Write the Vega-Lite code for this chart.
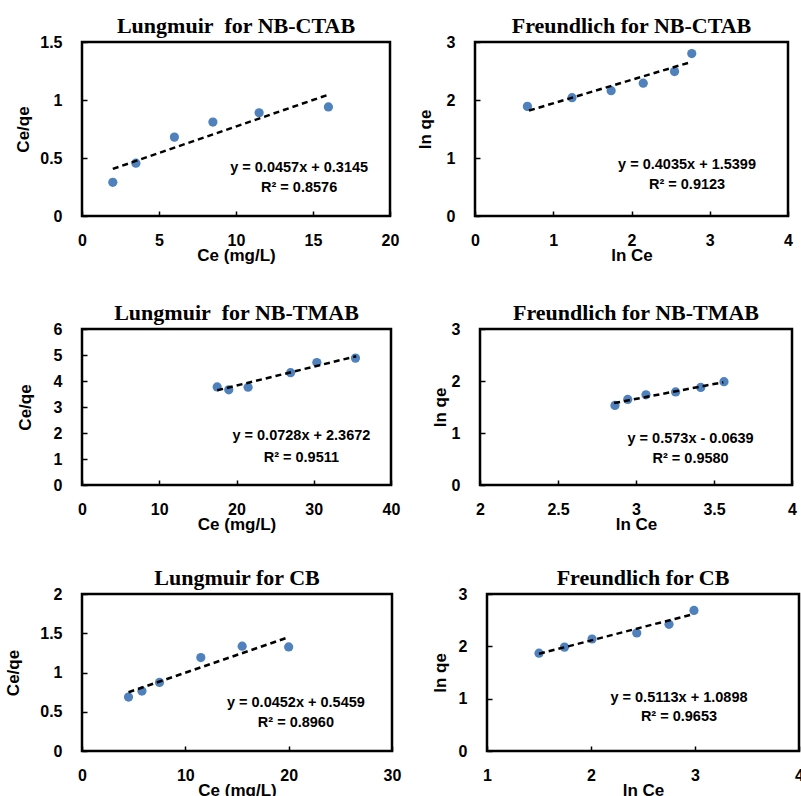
{
  "$schema": "https://vega.github.io/schema/vega-lite/v6.json",
  "background": "white",
  "padding": {"left": 2, "top": 13, "right": 0, "bottom": 0},
  "bounds": "flush",
  "spacing": 287,
  "config": {
    "font": "Liberation Sans",
    "view": {"stroke": "black", "strokeWidth": 2.5},
    "axis": {
      "grid": false, "domain": false, "ticks": true, "tickColor": "black", "tickSize": -5, "tickWidth": 1.5, "tickCount": 20,
      "labelFont": "Liberation Sans", "labelFontWeight": "bold", "labelFontSize": 16, "labelColor": "black",
      "titleFont": "Liberation Sans", "titleFontWeight": "bold", "titleFontSize": 17, "titleColor": "black",
      "labelFlush": false, "labelOverlap": false, "format": "~g"
    },
    "axisY": {"labelPadding": 25, "minExtent": 30, "maxExtent": 30},
    "axisX": {"labelPadding": 21, "titlePadding": -1},
    "title": {"font": "Liberation Serif", "fontSize": 22, "fontWeight": "bold", "color": "black", "offset": -4, "anchor": "middle"},
    "circle": {"size": 85, "color": "#4F81BD", "opacity": 1},
    "line": {"color": "black", "strokeWidth": 2.5, "strokeDash": [6, 4]},
    "text": {"font": "Liberation Sans", "fontWeight": "bold", "fontSize": 14.5, "color": "black", "align": "center", "baseline": "middle"}
  },
  "vconcat": [
    {
      "bounds": "flush",
      "spacing": 85,
      "hconcat": [
        {
          "width": 308, "height": 174,
          "title": "Lungmuir\u00a0 for NB-CTAB",
          "layer": [
            {
              "data": {"values": [{"x": 2, "y": 0.29}, {"x": 3.5, "y": 0.455}, {"x": 6, "y": 0.68}, {"x": 8.5, "y": 0.81}, {"x": 11.5, "y": 0.89}, {"x": 16, "y": 0.94}]},
              "mark": "circle",
              "encoding": {
                "x": {"field": "x", "type": "quantitative", "scale": {"domain": [0, 20], "nice": false}, "axis": {"title": "Ce (mg/L)", "values": [0, 5, 10, 15, 20]}},
                "y": {"field": "y", "type": "quantitative", "scale": {"domain": [0, 1.5], "nice": false}, "axis": {"title": "Ce/qe", "values": [0, 0.5, 1, 1.5], "titlePadding": 20}}
              }
            },
            {
              "data": {"values": [{"x": 2, "y": 0.406}, {"x": 16, "y": 1.046}]},
              "mark": "line",
              "encoding": {"x": {"field": "x", "type": "quantitative"}, "y": {"field": "y", "type": "quantitative"}}
            },
            {
              "data": {"values": [{"x": 14.1, "y": 0.414, "t": "y = 0.0457x + 0.3145"}, {"x": 14.1, "y": 0.241, "t": "R² = 0.8576"}]},
              "mark": "text",
              "encoding": {"x": {"field": "x", "type": "quantitative"}, "y": {"field": "y", "type": "quantitative"}, "text": {"field": "t"}}
            }
          ]
        },
        {
          "width": 313, "height": 174,
          "title": "Freundlich for NB-CTAB",
          "layer": [
            {
              "data": {"values": [{"x": 0.67, "y": 1.89}, {"x": 1.24, "y": 2.04}, {"x": 1.74, "y": 2.16}, {"x": 2.15, "y": 2.29}, {"x": 2.55, "y": 2.49}, {"x": 2.77, "y": 2.8}]},
              "mark": "circle",
              "encoding": {
                "x": {"field": "x", "type": "quantitative", "scale": {"domain": [0, 4], "nice": false}, "axis": {"title": "ln Ce", "values": [0, 1, 2, 3, 4]}},
                "y": {"field": "y", "type": "quantitative", "scale": {"domain": [0, 3], "nice": false}, "axis": {"title": "ln qe", "values": [0, 1, 2, 3], "titlePadding": 11}}
              }
            },
            {
              "data": {"values": [{"x": 0.69, "y": 1.818}, {"x": 2.77, "y": 2.658}]},
              "mark": "line",
              "encoding": {"x": {"field": "x", "type": "quantitative"}, "y": {"field": "y", "type": "quantitative"}}
            },
            {
              "data": {"values": [{"x": 2.71, "y": 0.879, "t": "y = 0.4035x + 1.5399"}, {"x": 2.71, "y": 0.534, "t": "R² = 0.9123"}]},
              "mark": "text",
              "encoding": {"x": {"field": "x", "type": "quantitative"}, "y": {"field": "y", "type": "quantitative"}, "text": {"field": "t"}}
            }
          ]
        }
      ]
    },
    {
      "bounds": "flush",
      "spacing": 265,
      "vconcat": [
        {
          "bounds": "flush",
          "spacing": 89,
          "hconcat": [
            {
              "width": 309, "height": 156,
              "title": "Lungmuir\u00a0 for NB-TMAB",
              "layer": [
                {
                  "data": {"values": [{"x": 17.5, "y": 3.77}, {"x": 19, "y": 3.66}, {"x": 21.5, "y": 3.76}, {"x": 27, "y": 4.32}, {"x": 30.4, "y": 4.71}, {"x": 35.4, "y": 4.88}]},
                  "mark": "circle",
                  "encoding": {
                    "x": {"field": "x", "type": "quantitative", "scale": {"domain": [0, 40], "nice": false}, "axis": {"title": "Ce (mg/L)", "values": [0, 10, 20, 30, 40]}},
                    "y": {"field": "y", "type": "quantitative", "scale": {"domain": [0, 6], "nice": false}, "axis": {"title": "Ce/qe", "values": [0, 1, 2, 3, 4, 5, 6], "titlePadding": 18}}
                  }
                },
                {
                  "data": {"values": [{"x": 17.5, "y": 3.641}, {"x": 35.5, "y": 4.952}]},
                  "mark": "line",
                  "encoding": {"x": {"field": "x", "type": "quantitative"}, "y": {"field": "y", "type": "quantitative"}}
                },
                {
                  "data": {"values": [{"x": 28.4, "y": 1.87, "t": "y = 0.0728x + 2.3672"}, {"x": 28.4, "y": 1.05, "t": "R² = 0.9511"}]},
                  "mark": "text",
                  "encoding": {"x": {"field": "x", "type": "quantitative"}, "y": {"field": "y", "type": "quantitative"}, "text": {"field": "t"}}
                }
              ]
            },
            {
              "width": 312, "height": 156,
              "title": "Freundlich for NB-TMAB",
              "layer": [
                {
                  "data": {"values": [{"x": 2.865, "y": 1.53}, {"x": 2.947, "y": 1.645}, {"x": 3.064, "y": 1.735}, {"x": 3.254, "y": 1.79}, {"x": 3.415, "y": 1.877}, {"x": 3.564, "y": 1.987}]},
                  "mark": "circle",
                  "encoding": {
                    "x": {"field": "x", "type": "quantitative", "scale": {"domain": [2, 4], "nice": false, "zero": false}, "axis": {"title": "ln Ce", "values": [2, 2.5, 3, 3.5, 4]}},
                    "y": {"field": "y", "type": "quantitative", "scale": {"domain": [0, 3], "nice": false}, "axis": {"title": "ln qe", "values": [0, 1, 2, 3], "titlePadding": 1}}
                  }
                },
                {
                  "data": {"values": [{"x": 2.86, "y": 1.575}, {"x": 3.56, "y": 1.976}]},
                  "mark": "line",
                  "encoding": {"x": {"field": "x", "type": "quantitative"}, "y": {"field": "y", "type": "quantitative"}}
                },
                {
                  "data": {"values": [{"x": 3.35, "y": 0.89, "t": "y = 0.573x - 0.0639"}, {"x": 3.35, "y": 0.503, "t": "R² = 0.9580"}]},
                  "mark": "text",
                  "encoding": {"x": {"field": "x", "type": "quantitative"}, "y": {"field": "y", "type": "quantitative"}, "text": {"field": "t"}}
                }
              ]
            }
          ]
        },
        {
          "bounds": "flush",
          "spacing": 95,
          "hconcat": [
            {
              "width": 310, "height": 157,
              "title": "Lungmuir for CB",
              "layer": [
                {
                  "data": {"values": [{"x": 4.5, "y": 0.687}, {"x": 5.8, "y": 0.763}, {"x": 7.5, "y": 0.874}, {"x": 11.5, "y": 1.19}, {"x": 15.5, "y": 1.335}, {"x": 20, "y": 1.326}]},
                  "mark": "circle",
                  "encoding": {
                    "x": {"field": "x", "type": "quantitative", "scale": {"domain": [0, 30], "nice": false}, "axis": {"title": "Ce (mg/L)", "values": [0, 10, 20, 30]}},
                    "y": {"field": "y", "type": "quantitative", "scale": {"domain": [0, 2], "nice": false}, "axis": {"title": "Ce/qe", "values": [0, 0.5, 1, 1.5, 2], "titlePadding": 30}}
                  }
                },
                {
                  "data": {"values": [{"x": 4.5, "y": 0.749}, {"x": 20, "y": 1.45}]},
                  "mark": "line",
                  "encoding": {"x": {"field": "x", "type": "quantitative"}, "y": {"field": "y", "type": "quantitative"}}
                },
                {
                  "data": {"values": [{"x": 20.7, "y": 0.614, "t": "y = 0.0452x + 0.5459"}, {"x": 20.7, "y": 0.358, "t": "R² = 0.8960"}]},
                  "mark": "text",
                  "encoding": {"x": {"field": "x", "type": "quantitative"}, "y": {"field": "y", "type": "quantitative"}, "text": {"field": "t"}}
                }
              ]
            },
            {
              "width": 312, "height": 157,
              "title": "Freundlich for CB",
              "layer": [
                {
                  "data": {"values": [{"x": 1.5, "y": 1.87}, {"x": 1.745, "y": 1.985}, {"x": 2.01, "y": 2.14}, {"x": 2.44, "y": 2.255}, {"x": 2.75, "y": 2.42}, {"x": 2.99, "y": 2.685}]},
                  "mark": "circle",
                  "encoding": {
                    "x": {"field": "x", "type": "quantitative", "scale": {"domain": [1, 4], "nice": false, "zero": false}, "axis": {"title": "ln Ce", "values": [1, 2, 3, 4]}},
                    "y": {"field": "y", "type": "quantitative", "scale": {"domain": [0, 3], "nice": false}, "axis": {"title": "ln qe", "values": [0, 1, 2, 3], "titlePadding": 8}}
                  }
                },
                {
                  "data": {"values": [{"x": 1.5, "y": 1.857}, {"x": 2.99, "y": 2.619}]},
                  "mark": "line",
                  "encoding": {"x": {"field": "x", "type": "quantitative"}, "y": {"field": "y", "type": "quantitative"}}
                },
                {
                  "data": {"values": [{"x": 2.846, "y": 1.008, "t": "y = 0.5113x + 1.0898"}, {"x": 2.846, "y": 0.642, "t": "R² = 0.9653"}]},
                  "mark": "text",
                  "encoding": {"x": {"field": "x", "type": "quantitative"}, "y": {"field": "y", "type": "quantitative"}, "text": {"field": "t"}}
                }
              ]
            }
          ]
        }
      ]
    }
  ]
}
